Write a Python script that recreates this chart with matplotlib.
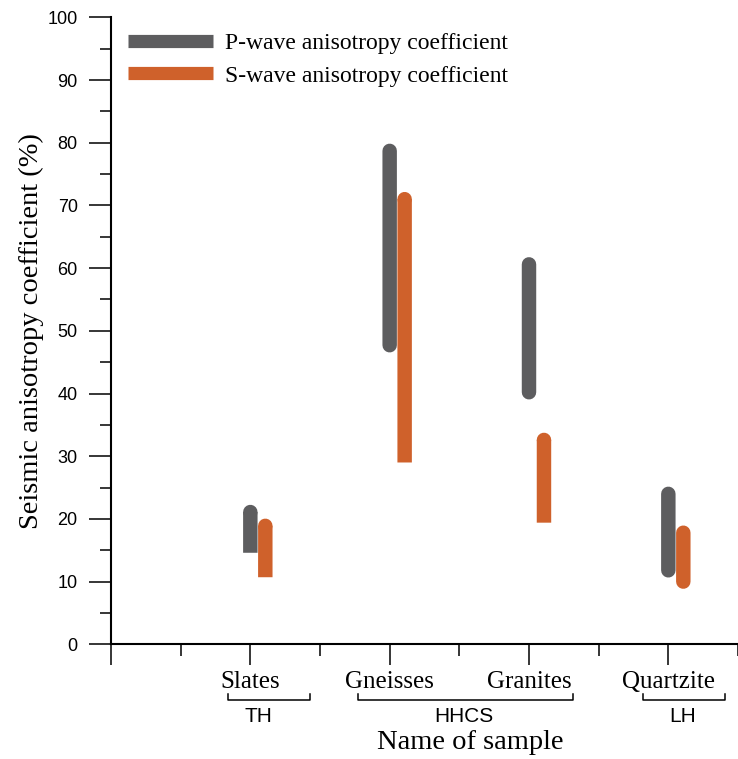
import matplotlib
matplotlib.use("Agg")
import matplotlib.pyplot as plt
from matplotlib.lines import Line2D
from matplotlib.transforms import blended_transform_factory

# ---------------- data ----------------
categories = ["Slates", "Gneisses", "Granites", "Quartzite"]
p_low = [14.6, 47.7, 40.2, 11.8]
p_high = [21.1, 78.7, 60.6, 24.0]
s_low = [10.7, 29.0, 19.4, 10.0]
s_high = [18.9, 71.0, 32.6, 17.8]
# which bottom ends are rounded (True) or flat (False); all tops are rounded
p_low_round = [False, True, True, True]
s_low_round = [False, False, False, True]
groups = ["TH", "HHCS", "LH"]
series_labels = ["P-wave anisotropy coefficient", "S-wave anisotropy coefficient"]
y_ticks = [0, 10, 20, 30, 40, 50, 60, 70, 80, 90, 100]

# ---------------- style / layout ----------------
GREY = "#5d5d5f"
ORANGE = "#cf612b"
LW = 10.4
SERIF = ["Liberation Serif", "DejaVu Serif"]
SANS = ["Liberation Sans", "DejaVu Sans"]
cat_x = [2, 4, 6, 8]
s_offset = 0.215
group_text_x = [2.12, 5.07, 8.21]
group_brackets = [(1.68, 2.85), (3.54, 6.63), (7.64, 8.81)]

fig = plt.figure(figsize=(7.38, 7.59), dpi=100)
ax = fig.add_axes([0.1504, 0.1511, 0.8496, 0.8261])
ax.set_xlim(0, 9)
ax.set_ylim(0, 100)


def draw_bar(x, lo, hi, color, lo_round):
    if lo_round:
        ax.plot([x, x], [lo, hi], color=color, lw=LW, solid_capstyle="round",
                zorder=3, snap=False)
    else:
        # flat bottom: butt-capped segment + a very short round-capped piece at the top
        ax.plot([x, x], [lo, hi], color=color, lw=LW, solid_capstyle="butt",
                zorder=3, snap=False)
        ax.plot([x, x], [hi - 0.02, hi], color=color, lw=LW,
                solid_capstyle="round", zorder=3, snap=False)


for i, x in enumerate(cat_x):
    draw_bar(x, p_low[i], p_high[i], GREY, p_low_round[i])
    draw_bar(x + s_offset, s_low[i], s_high[i], ORANGE, s_low_round[i])

# spines
for side in ("top", "right"):
    ax.spines[side].set_visible(False)
for side in ("left", "bottom"):
    ax.spines[side].set_linewidth(1.5)

# y ticks
ax.set_yticks(y_ticks)
ax.set_yticks([v + 5 for v in y_ticks[:-1]], minor=True)
ax.tick_params(axis="y", which="major", length=16, width=1.1, pad=8, labelsize=13)
ax.tick_params(axis="y", which="minor", length=8, width=1.1)
for lab in ax.get_yticklabels():
    lab.set_family(SANS)

# x ticks
ax.set_xticks([0] + cat_x)
ax.set_xticklabels([""] + categories)
ax.set_xticks([1, 3, 5, 7, 9], minor=True)
ax.tick_params(axis="x", which="major", length=15, width=1.1, pad=4, labelsize=18)
ax.tick_params(axis="x", which="minor", length=8.6, width=1.1)
for lab in ax.get_xticklabels():
    lab.set_family(SERIF)

# labels
ax.set_ylabel("Seismic anisotropy coefficient (%)", family=SERIF, fontsize=20.5)
ax.yaxis.set_label_coords(-0.107, 0.5)
ax.set_xlabel("Name of sample", family=SERIF, fontsize=20.5)
ax.xaxis.set_label_coords(0.5726, -0.136)

# group brackets
trans = blended_transform_factory(ax.transData, ax.transAxes)
yb, ye = -0.0888, -0.0793
for (x0, x1), name, tx in zip(group_brackets, groups, group_text_x):
    ax.add_line(Line2D([x0, x0, x1, x1], [ye, yb, yb, ye], transform=trans,
                       color="black", lw=1.1, clip_on=False))
    ax.text(tx, -0.1144, name, transform=trans, ha="center", va="center",
            family=SANS, fontsize=15)

# legend
handles = [Line2D([], [], color=GREY, lw=9.5, solid_capstyle="butt"),
           Line2D([], [], color=ORANGE, lw=9.5, solid_capstyle="butt")]
ax.legend(handles, series_labels, loc="upper left", bbox_to_anchor=(0.027, 0.9757),
          frameon=False, borderpad=0, borderaxespad=0, handlelength=3.6,
          handletextpad=0.5, labelspacing=0.47, prop={"family": SERIF, "size": 17})

fig.savefig("out.png", dpi=100)
